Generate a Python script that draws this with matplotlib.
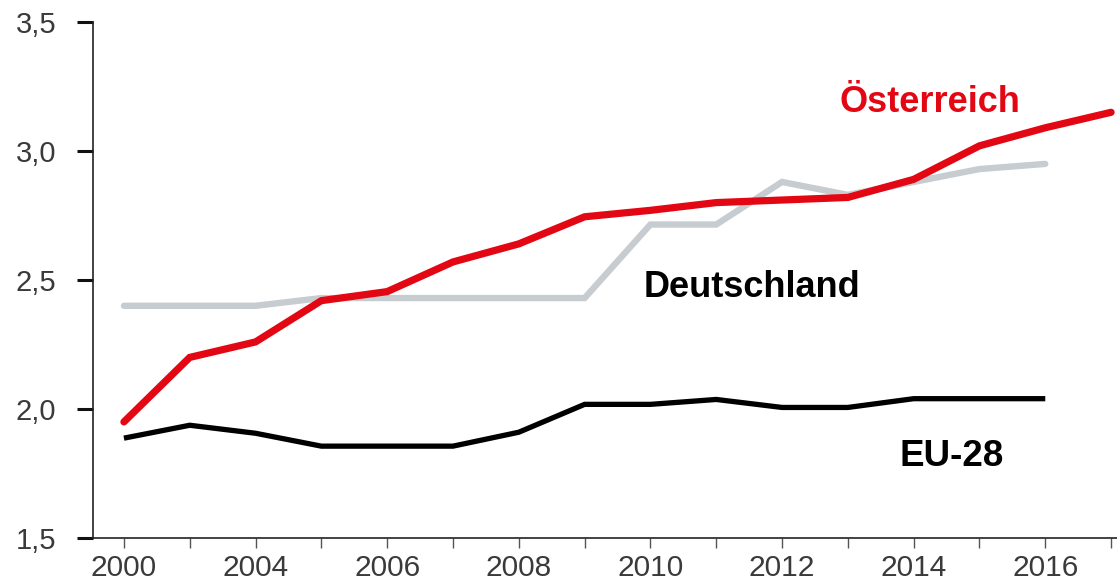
import matplotlib
matplotlib.use("Agg")
import matplotlib.pyplot as plt

# Data (index positions on the x axis; original labels are irregular)
x_index = list(range(16))
tick_labels = ["2000", "", "2004", "", "2006", "", "2008", "", "2010", "", "2012", "", "2014", "", "2016", ""]

oesterreich = [1.95, 2.20, 2.26, 2.42, 2.455, 2.57, 2.64, 2.745, 2.77, 2.80, 2.81, 2.82, 2.89, 3.02, 3.09, 3.15]
deutschland = [2.40, 2.40, 2.40, 2.43, 2.43, 2.43, 2.43, 2.43, 2.715, 2.715, 2.88, 2.83, 2.88, 2.93, 2.95]
eu28 = [1.887, 1.937, 1.906, 1.856, 1.856, 1.856, 1.91, 2.018, 2.018, 2.037, 2.006, 2.006, 2.04, 2.04, 2.04]

y_ticks = [1.5, 2.0, 2.5, 3.0, 3.5]
y_tick_labels = ["1,5", "2,0", "2,5", "3,0", "3,5"]

RED = "#e30613"
GREY = "#c7ccd0"
BLACK = "#000000"

W, H = 1117, 582
left_px, bottom_px, top_px = 93, 538, 22
fig = plt.figure(figsize=(W / 100, H / 100), dpi=100)
ax = fig.add_axes([left_px / W, 1 - bottom_px / H, 1 - left_px / W, (bottom_px - top_px) / H])

ax.plot(x_index[:len(deutschland)], deutschland, color=GREY, lw=4.6, solid_capstyle="round", solid_joinstyle="miter", zorder=2)
ax.plot(x_index[:len(eu28)], eu28, color=BLACK, lw=3.8, solid_capstyle="butt", solid_joinstyle="miter", zorder=3)
ax.plot(x_index, oesterreich, color=RED, lw=5.2, solid_capstyle="round", solid_joinstyle="miter", zorder=4, clip_on=False)

ax.set_xlim(-0.47, 15.09)
ax.set_ylim(1.5, 3.5)

ax.set_yticks(y_ticks)
ax.set_yticklabels(y_tick_labels)
ax.set_xticks(x_index)
ax.set_xticklabels(tick_labels)

for s in ["top", "right"]:
    ax.spines[s].set_visible(False)
for s in ["left", "bottom"]:
    ax.spines[s].set_linewidth(1.2)
    ax.spines[s].set_color("#222222")

ax.tick_params(axis="y", direction="out", length=11.5, width=2.2, color="#111111",
               labelsize=21, labelcolor="#3a3a3a", pad=15)
ax.tick_params(axis="x", direction="out", length=7.5, width=1.0, color="#555555",
               labelsize=21.5, labelcolor="#3a3a3a", pad=4)
for lab in ax.get_xticklabels() + ax.get_yticklabels():
    lab.set_fontfamily("Liberation Sans")

ax.text(12.25, 3.151, "Österreich", color=RED, fontsize=26, fontweight="bold",
        family="Liberation Sans", ha="center", va="baseline")
ax.text(9.55, 2.436, "Deutschland", color=BLACK, fontsize=26, fontweight="bold",
        family="Liberation Sans", ha="center", va="baseline")
ax.text(12.58, 1.778, "EU-28", color=BLACK, fontsize=26.5, fontweight="bold",
        family="Liberation Sans", ha="center", va="baseline")

fig.savefig("out.png", dpi=100)
